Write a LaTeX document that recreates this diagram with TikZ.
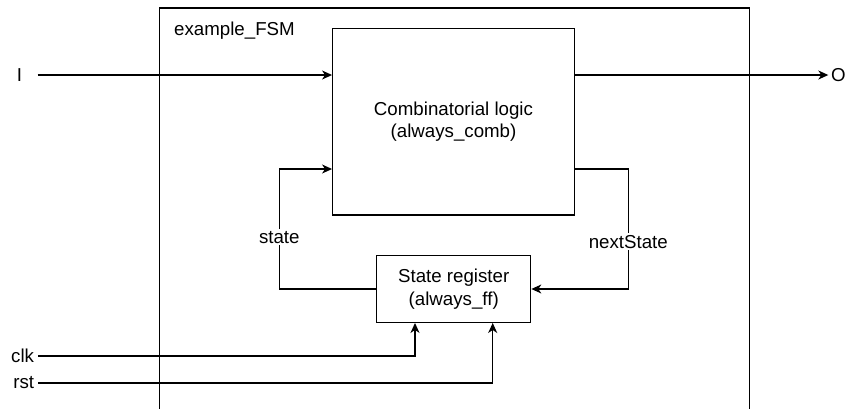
\documentclass[tikz,border=0pt]{standalone}
\usepackage{fontspec}
\setmainfont{Liberation Sans}
\usetikzlibrary{arrows.meta}
\begin{document}
\begin{tikzpicture}[x=1pt,y=-1pt,
  wire/.style={line width=1.3pt},
  sig/.style={wire,-{Stealth[length=10pt,width=9pt,inset=3pt]}},
  txt/.style={font=\fontsize{18.7}{22.5}\selectfont},
  block/.style={draw,line width=1.3pt,inner sep=0pt,align=center,txt},
  lbl/.style={txt,inner sep=1pt},
  tag/.style={txt,fill=white,inner xsep=0pt,inner ysep=2pt}]
\useasboundingbox (0,0) rectangle (848,408);
\clip (0,0) rectangle (848,408);

% module outline (runs past the lower edge)
\node[draw,wire,minimum width=590pt,minimum height=440pt,anchor=north west,inner sep=0pt] (fsm) at (158.7,7.3) {};
\node[lbl,anchor=west] (title) at (173,31) {example\_FSM};

% blocks
\node[block,minimum width=241.6pt,minimum height=186.7pt] (comb) at (453.5,121.7)
  {Combinatorial logic\\(always\_comb)};
\node[block,minimum width=154pt,minimum height=66.6pt] (reg) at (453.7,289)
  {State register\\(always\_ff)};

% helper coordinates
\coordinate (iS) at (37.7,75);
\coordinate (yS) at (0,169);
\coordinate (xL) at (279.3,0);
\coordinate (xR) at (628.3,0);
\coordinate (xClk) at (415,0);
\coordinate (xRst) at (492.7,0);

% ports
\node[lbl] (in) at (19.5,75) {I};
\node[lbl,anchor=west,inner xsep=2.5pt] (out) at (828.3,75) {O};
\node[lbl,anchor=east,inner xsep=4pt] (clk) at (38.3,356) {clk};
\node[lbl,anchor=east,inner xsep=4pt] (rst) at (38.3,383) {rst};

% data path
\draw[sig] (iS) -- (iS -| comb.west);
\draw[sig] (comb.east |- iS) -- (out.west);

% feedback loop
\draw[sig] (reg.west) -- (reg.west -| xL) -- (xL |- yS) -- (yS -| comb.west);
\draw[sig] (yS -| comb.east) -- (xR |- yS) -- (xR |- reg.east) -- (reg.east);
\node[tag] (stateLbl) at (279.3,237.3) {state};
\node[tag] (nextLbl) at (628.3,241.7) {nextState};

% clock and reset
\draw[sig] (clk.east) -| (xClk |- reg.south);
\draw[sig] (rst.east) -| (xRst |- reg.south);
\end{tikzpicture}
\end{document}
